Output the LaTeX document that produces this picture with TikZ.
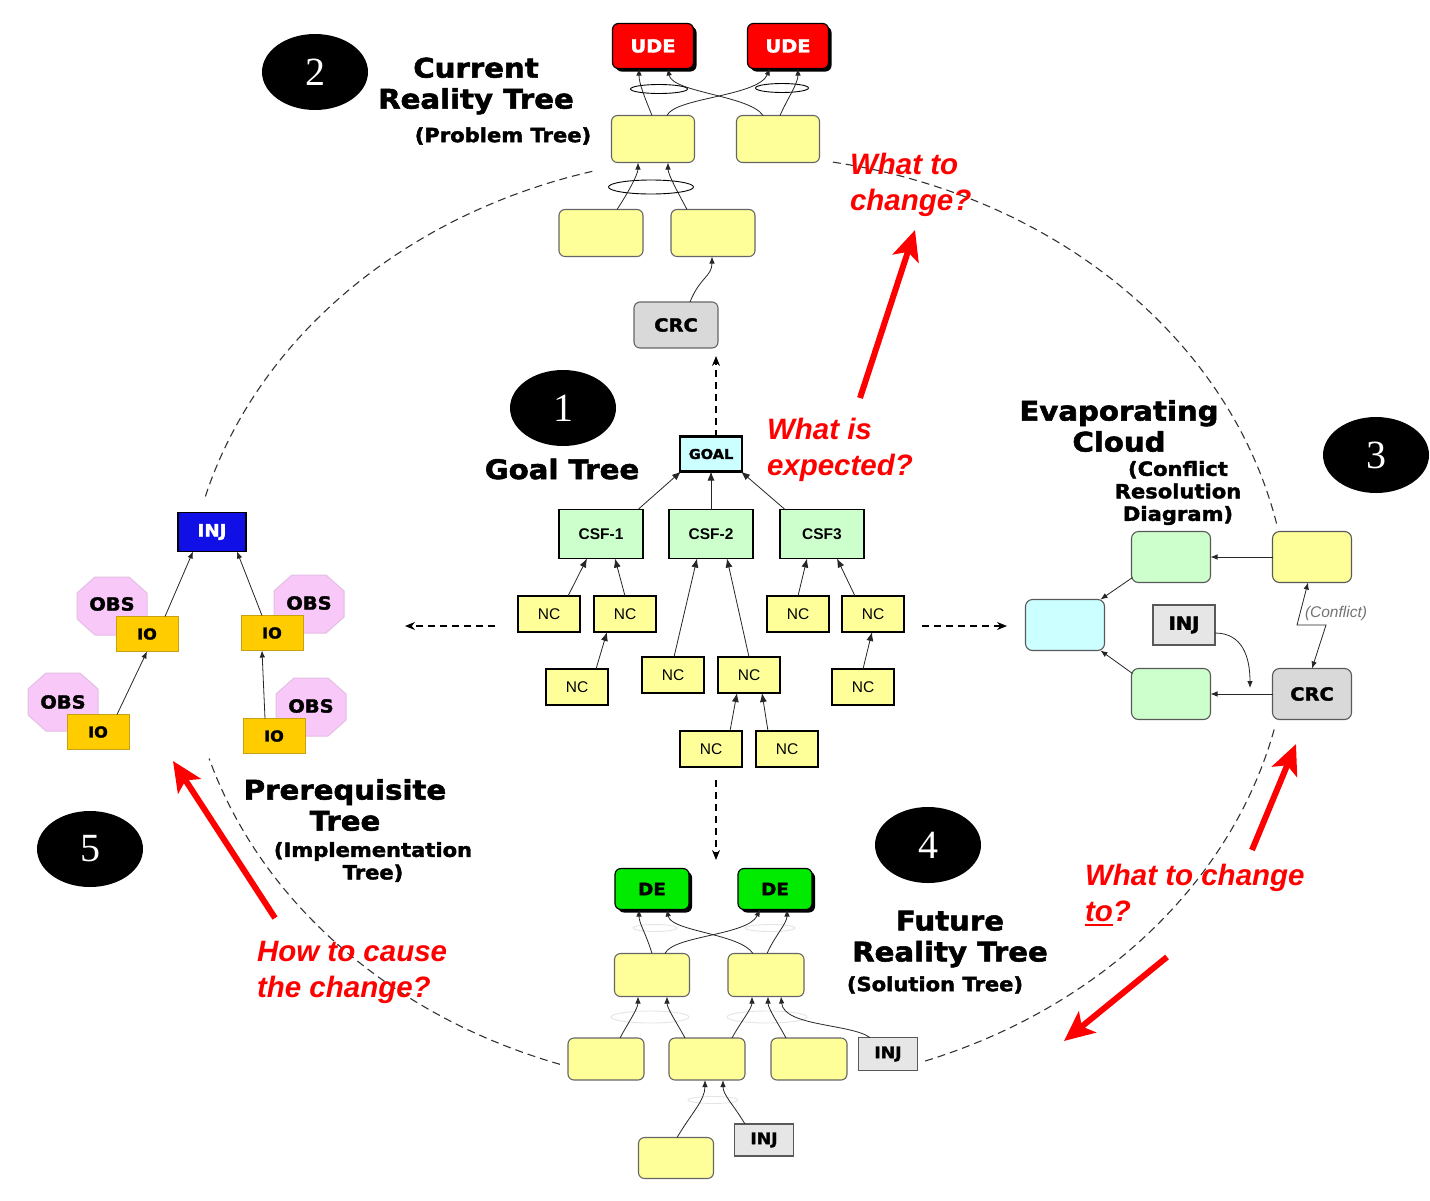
\documentclass[tikz,border=0pt]{standalone}
\usepackage{fontspec}
\setmainfont{Liberation Sans}
\newfontfamily\heavy{DejaVu Sans}[FakeStretch=1.08,BoldFeatures={FakeBold=2}]
\newfontfamily\numfont{Liberation Serif}
\usetikzlibrary{arrows.meta,shapes.geometric,shadows}
\definecolor{byel}{RGB}{255,255,153}
\definecolor{cgreen}{RGB}{204,255,204}
\definecolor{ccyan}{RGB}{204,255,255}
\definecolor{udered}{RGB}{255,0,0}
\definecolor{degreen}{RGB}{0,235,0}
\definecolor{crcgray}{RGB}{217,217,217}
\definecolor{injgray}{RGB}{230,230,230}
\definecolor{ioyel}{RGB}{255,204,0}
\definecolor{iobord}{RGB}{200,160,20}
\definecolor{obspink}{RGB}{248,200,248}
\definecolor{obsbord}{RGB}{228,190,228}
\definecolor{injblue}{RGB}{16,16,230}
\definecolor{redtxt}{RGB}{255,0,0}
\newcommand\octag[2]{\filldraw[fill=obspink,draw=obsbord,line width=1pt] (#1-35,#2-13) -- (#1-35,#2+13) -- (#1-17,#2+29) -- (#1+17,#2+29) -- (#1+35,#2+13) -- (#1+35,#2-13) -- (#1+17,#2-29) -- (#1-17,#2-29) -- cycle;}
\newcommand\thickul[1]{\setbox0\hbox{#1}\rlap{\rule[-4.5pt]{\wd0}{2.4pt}}\box0}
\begin{document}
\begin{tikzpicture}[x=1pt,y=-1pt,
 every node/.style={inner sep=0pt,outer sep=0pt},
 conn/.style={line width=0.8pt,draw=black!85,-{Latex[length=7pt,width=5.5pt]}},
 gconn/.style={line width=0.8pt,draw=black!85,-{Latex[length=9pt,width=7pt]}},
 dasharr/.style={line width=1.1pt,draw=black,dash pattern=on 7pt off 5pt,-{Stealth[length=10pt,width=8pt]}},
 cyc/.style={line width=1.1pt,draw=black!80,dash pattern=on 8pt off 5pt},
 redarr/.style={line width=6pt,draw=redtxt,-{Stealth[length=30pt,width=27pt,inset=7pt]}},
 redtext/.style={text=redtxt,font=\bfseries\itshape\fontsize{29.5}{36}\selectfont,align=left,anchor=west},
 title/.style={font=\heavy\bfseries\fontsize{27}{31}\selectfont,align=center},
 subtitle/.style={font=\heavy\bfseries\fontsize{19.5}{22.5}\selectfont,align=center},
 numel/.style={ellipse,fill=black,minimum width=106pt,minimum height=76pt,text=white,font=\numfont\fontsize{40}{40}\selectfont},
 ude/.style={draw=black,fill=udered,rounded corners=6pt,line width=1.2pt,minimum width=81pt,minimum height=45pt,text=white,font=\heavy\bfseries\fontsize{18}{18}\selectfont,drop shadow={shadow xshift=3pt,shadow yshift=-3pt,fill=black,opacity=1}},
 debox/.style={draw=black,fill=degreen,rounded corners=6pt,line width=1.2pt,minimum width=74pt,minimum height=41pt,font=\heavy\bfseries\fontsize{17}{17}\selectfont,drop shadow={shadow xshift=3pt,shadow yshift=-3pt,fill=black,opacity=1}},
 ybox/.style={draw=black!60,fill=byel,rounded corners=6pt,line width=1.1pt},
 andel/.style={ellipse,draw=black,fill=white,line width=0.9pt},
 andfaint/.style={ellipse,draw=black!10,fill=white,line width=0.9pt},
 crcbox/.style={draw=black!60,fill=crcgray,rounded corners=6pt,line width=1.1pt,font=\heavy\bfseries\fontsize{18}{18}\selectfont},
 injg/.style={draw=black!65,fill=injgray,line width=1.1pt,font=\heavy\bfseries\fontsize{16}{16}\selectfont},
 ncbox/.style={draw=black,fill=byel,line width=1.1pt,minimum width=62pt,minimum height=36pt,font=\fontsize{15.5}{15.5}\selectfont},
 csfbox/.style={draw=black,fill=cgreen,line width=1.1pt,minimum width=84pt,minimum height=49pt,font=\bfseries\fontsize{15.5}{15.5}\selectfont},
 goalbox/.style={draw=black,fill=ccyan,line width=2.6pt,minimum width=62pt,minimum height=35pt,font=\heavy\bfseries\fontsize{13.5}{13.5}\selectfont},
 ecbox/.style={draw=black!65,rounded corners=7pt,line width=1.1pt,minimum width=79pt,minimum height=51pt},
 iobox/.style={draw=iobord,fill=ioyel,line width=1pt,minimum width=62pt,minimum height=35pt,font=\heavy\bfseries\fontsize{15}{15}\selectfont},
 obstxt/.style={font=\heavy\bfseries\fontsize{18}{18}\selectfont},
 injb/.style={draw=black,fill=injblue,line width=1.3pt,minimum width=68pt,minimum height=39pt,text=white,font=\heavy\bfseries\fontsize{17}{17}\selectfont}
]
\fill[white] (0,0) rectangle (1430,1200);

% ---- dashed cycle ----
\draw[cyc] plot[domain=195.6:255,samples=80] ({737+552*cos(\x)},{622+467*sin(\x)});
\draw[cyc] plot[domain=280:348,samples=80] ({737+552*cos(\x)},{622+467*sin(\x)});
\draw[cyc] plot[domain=13.3:70.5,samples=80] ({737+552*cos(\x)},{622+467*sin(\x)});
\draw[cyc] plot[domain=108.7:163,samples=80] ({737+552*cos(\x)},{622+467*sin(\x)});

% ---- number ellipses ----
\node[numel] (n1) at (563,408) {1};
\node[numel] (n2) at (315,72) {2};
\node[numel] (n3) at (1376,455) {3};
\node[numel] (n4) at (928,845) {4};
\node[numel] (n5) at (90,849) {5};

% ---- titles ----
\node[title] (tcrt) at (476,86) {Current\\Reality Tree};
\node[subtitle] (scrt) at (503,136) {(Problem Tree)};
\node[title] (tgoal) at (562,469) {Goal Tree};
\node[title] (tec) at (1119,426) {Evaporating\\Cloud};
\node[subtitle] (sec) at (1178,493) {(Conflict\\Resolution\\Diagram)};
\node[title] (tprt) at (345,805) {Prerequisite\\Tree};
\node[subtitle] (sprt) at (373,862) {(Implementation\\Tree)};
\node[title] (tfrt) at (950,939) {Future\\Reality Tree};
\node[subtitle] (sfrt) at (935,985) {(Solution Tree)};

% ---- red questions ----
\node[redtext] (q1) at (850,185) {What to\\change?};
\node[redtext] (q2) at (767,450) {What is\\expected?};
\node[redtext] (q3) at (1085,895) {What to change\\\thickul{to}?};
\node[redtext] (q4) at (257,972) {How to cause\\the change?};

\coordinate (ra1s) at (860,398); \coordinate (ra1e) at (915,230);
\coordinate (ra2s) at (1252,850); \coordinate (ra2e) at (1296,744);
\coordinate (ra3s) at (1167,957); \coordinate (ra3e) at (1064,1041);
\coordinate (ra4s) at (275,918); \coordinate (ra4e) at (173,761);
\draw[redarr] (ra1s) -- (ra1e);
\draw[redarr] (ra2s) -- (ra2e);
\draw[redarr] (ra3s) -- (ra3e);
\draw[redarr] (ra4s) -- (ra4e);

% ---- Current Reality Tree ----
\node[andel,minimum width=57pt,minimum height=9pt] (ea1) at (659,89) {};
\node[andel,minimum width=53pt,minimum height=9pt] (ea2) at (782,88) {};
\node[andel,minimum width=85pt,minimum height=14pt] (ea3) at (651,187) {};
\node[ude] (ude1) at (653,46) {UDE};
\node[ude] (ude2) at (788,46) {UDE};
\node[ybox,minimum width=83pt,minimum height=47pt] (crt1) at (653,139) {};
\node[ybox,minimum width=83pt,minimum height=47pt] (crt2) at (778,139) {};
\node[ybox,minimum width=84pt,minimum height=47pt] (crt3) at (601,233) {};
\node[ybox,minimum width=84pt,minimum height=47pt] (crt4) at (713,233) {};
\node[crcbox,minimum width=84pt,minimum height=46pt] (crc1) at (676,325) {CRC};
\draw[conn] ([xshift=-1pt]crt1.north) .. controls +(-8,-20) and +(0,15) .. ([xshift=-14pt]ude1.south);
\draw[conn] ([xshift=14pt]crt1.north) .. controls +(8,-18) and +(-12,28) .. ([xshift=-18pt]ude2.south);
\draw[conn] ([xshift=-15pt]crt2.north) .. controls +(-13,-20) and +(4,24) .. ([xshift=15pt]ude1.south);
\draw[conn] ([xshift=2pt]crt2.north) .. controls +(8,-18) and +(0,15) .. ([xshift=10pt]ude2.south);
\draw[conn] ([xshift=16pt]crt3.north) .. controls +(10,-15) and +(0,12) .. ([xshift=-15pt]crt1.south);
\draw[conn] ([xshift=-26pt]crt4.north) .. controls +(-8,-15) and +(0,12) .. ([xshift=15pt]crt1.south);
\draw[conn] ([xshift=14pt]crc1.north) .. controls +(10,-25) and +(0,20) .. ([xshift=-1pt]crt4.south);

% ---- Goal Tree ----
\node[goalbox] (goal) at (711,454) {GOAL};
\node[csfbox] (csf1) at (601,534) {CSF-1};
\node[csfbox] (csf2) at (711,534) {CSF-2};
\node[csfbox] (csf3) at (822,534) {CSF3};
\node[ncbox] (nc1) at (549,614) {NC};
\node[ncbox] (nc2) at (625,614) {NC};
\node[ncbox] (nc3) at (798,614) {NC};
\node[ncbox] (nc4) at (873,614) {NC};
\node[ncbox] (nc5) at (577,687) {NC};
\node[ncbox] (nc6) at (673,675) {NC};
\node[ncbox] (nc7) at (749,675) {NC};
\node[ncbox] (nc8) at (863,687) {NC};
\node[ncbox] (nc9) at (711,749) {NC};
\node[ncbox] (nc10) at (787,749) {NC};
\draw[gconn] ([xshift=37pt]csf1.north) -- ([xshift=1pt]goal.south west);
\draw[gconn] (csf2.north) -- (goal.south);
\draw[gconn] ([xshift=-37pt]csf3.north) -- ([xshift=-1pt]goal.south east);
\draw[gconn] ([xshift=19pt]nc1.north) -- ([xshift=-14pt]csf1.south);
\draw[gconn] (nc2.north) -- ([xshift=14pt]csf1.south);
\draw[gconn] ([xshift=19pt]nc5.north) -- ([xshift=-18pt]nc2.south);
\draw[gconn] ([xshift=1pt]nc6.north) -- ([xshift=-14pt]csf2.south);
\draw[gconn] (nc7.north) -- ([xshift=16pt]csf2.south);
\draw[gconn] (nc3.north) -- ([xshift=-15pt]csf3.south);
\draw[gconn] ([xshift=-18pt]nc4.north) -- ([xshift=15pt]csf3.south);
\draw[gconn] (nc8.north) -- ([xshift=-1pt]nc4.south);
\draw[gconn] ([xshift=19pt]nc9.north) -- ([xshift=-12pt]nc7.south);
\draw[gconn] ([xshift=-19pt]nc10.north) -- ([xshift=13pt]nc7.south);

% dashed arrows out of the goal tree
\coordinate (dup) at (716,356);
\coordinate (dl1) at (495,626); \coordinate (dl2) at (405,626);
\coordinate (dr1) at (922,626); \coordinate (dr2) at (1007,626);
\coordinate (dd1) at (716,780); \coordinate (dd2) at (716,860);
\draw[dasharr] ([xshift=5pt]goal.north) -- (dup);
\draw[dasharr] (dl1) -- (dl2);
\draw[dasharr] (dr1) -- (dr2);
\draw[dasharr] (dd1) -- (dd2);

% ---- Evaporating Cloud ----
\node[ecbox,fill=cgreen] (ecg1) at (1171,557) {};
\node[ecbox,fill=byel] (ecy) at (1312,557) {};
\node[ecbox,fill=ccyan] (ecc) at (1065,625) {};
\node[ecbox,fill=cgreen] (ecg2) at (1171,694) {};
\node[ecbox,fill=crcgray,font=\heavy\bfseries\fontsize{18}{18}\selectfont] (eccrc) at (1312,694) {CRC};
\node[injg,minimum width=62pt,minimum height=40pt,font=\heavy\bfseries\fontsize{18}{18}\selectfont] (ecinj) at (1184,625) {INJ};
\draw[conn] (ecy.west) -- (ecg1.east);
\draw[conn] ([xshift=1pt,yshift=5pt]ecg1.south west) -- ([xshift=-4pt]ecc.north east);
\draw[conn] ([xshift=1pt,yshift=-5pt]ecg2.north west) -- ([xshift=-4pt]ecc.south east);
\draw[conn] (eccrc.west) -- (ecg2.east);
\coordinate (injend) at (1250,688);
\draw[conn] ([yshift=-8pt]ecinj.east) .. controls +(28,0) and +(0,-30) .. (injend);
\coordinate (cz1) at (1297,625); \coordinate (cz2) at (1326,625);
\draw[line width=0.8pt,draw=black!85,{Latex[length=7pt,width=5.5pt]}-{Latex[length=7pt,width=5.5pt]}] ([xshift=-4pt]ecy.south) -- (cz1) -- (cz2) -- (eccrc.north);
\node[anchor=west,text=black!55,font=\itshape\fontsize{15.5}{15.5}\selectfont] (conf) at (1305,613) {(Conflict)};

% ---- Prerequisite Tree ----
\octag{112}{606}
\octag{309}{604}
\octag{63}{702}
\octag{311}{707}
\node[obstxt] (obs1) at (112,604) {OBS};
\node[obstxt] (obs2) at (309,603) {OBS};
\node[obstxt] (obs3) at (63,702) {OBS};
\node[obstxt] (obs4) at (311,706) {OBS};
\node[iobox] (io1) at (147,634) {IO};
\node[iobox] (io2) at (272,633) {IO};
\node[iobox] (io3) at (98,732) {IO};
\node[iobox] (io4) at (274,736) {IO};
\node[injb] (pinj) at (212,532) {INJ};
\draw[conn] ([xshift=18pt]io1.north) -- ([xshift=-19pt]pinj.south);
\draw[conn] ([xshift=-10pt]io2.north) -- ([xshift=25pt]pinj.south);
\draw[conn] ([xshift=19pt]io3.north) -- (io1.south);
\draw[conn] ([xshift=-9pt]io4.north) -- ([xshift=-10pt]io2.south);

% ---- Future Reality Tree ----
\node[andfaint,minimum width=44pt,minimum height=7pt] (fe1) at (655,928) {};
\node[andfaint,minimum width=50pt,minimum height=7pt] (fe2) at (770,928) {};
\node[andfaint,minimum width=78pt,minimum height=12pt] (fe3) at (650,1017) {};
\node[andfaint,minimum width=80pt,minimum height=12pt] (fe4) at (767,1017) {};
\node[andfaint,minimum width=50pt,minimum height=7pt] (fe5) at (713,1100) {};
\node[debox] (de1) at (652,889) {DE};
\node[debox] (de2) at (775,889) {DE};
\node[ybox,minimum width=75pt,minimum height=43pt] (fr1) at (652,975) {};
\node[ybox,minimum width=76pt,minimum height=43pt] (fr2) at (766,975) {};
\node[ybox,minimum width=76pt,minimum height=42pt] (fb1) at (606,1059) {};
\node[ybox,minimum width=76pt,minimum height=42pt] (fb2) at (707,1059) {};
\node[ybox,minimum width=76pt,minimum height=42pt] (fb3) at (809,1059) {};
\node[ybox,minimum width=75pt,minimum height=41pt] (fb4) at (676,1158) {};
\node[injg,minimum width=59pt,minimum height=33pt] (finj1) at (888,1054) {INJ};
\node[injg,minimum width=59pt,minimum height=32pt] (finj2) at (764,1140) {INJ};
\draw[conn] (fr1.north) .. controls +(-6,-20) and +(0,14) .. ([xshift=-13pt]de1.south);
\draw[conn] ([xshift=13pt]fr1.north) .. controls +(8,-18) and +(-12,26) .. ([xshift=-15pt]de2.south);
\draw[conn] ([xshift=-13pt]fr2.north) .. controls +(-13,-20) and +(4,22) .. ([xshift=15pt]de1.south);
\draw[conn] ([xshift=1pt]fr2.north) .. controls +(8,-18) and +(0,14) .. ([xshift=12pt]de2.south);
\draw[conn] ([xshift=14pt]fb1.north) .. controls +(8,-15) and +(0,12) .. ([xshift=-14pt]fr1.south);
\draw[conn] ([xshift=-22pt]fb2.north) .. controls +(-8,-15) and +(0,12) .. ([xshift=15pt]fr1.south);
\draw[conn] ([xshift=25pt]fb2.north) .. controls +(8,-15) and +(0,12) .. ([xshift=-14pt]fr2.south);
\draw[conn] ([xshift=-23pt]fb3.north) .. controls +(-8,-15) and +(0,12) .. ([xshift=2pt]fr2.south);
\draw[conn] ([xshift=-18pt]finj1.north) .. controls +(-20,-14) and +(3,30) .. ([xshift=15pt]fr2.south);
\draw[conn] ([xshift=1pt]fb4.north) .. controls +(15,-25) and +(0,20) .. ([xshift=-2pt]fb2.south);
\draw[conn] ([xshift=-19pt]finj2.north) .. controls +(-12,-20) and +(0,15) .. ([xshift=16pt]fb2.south);
\end{tikzpicture}
\end{document}
